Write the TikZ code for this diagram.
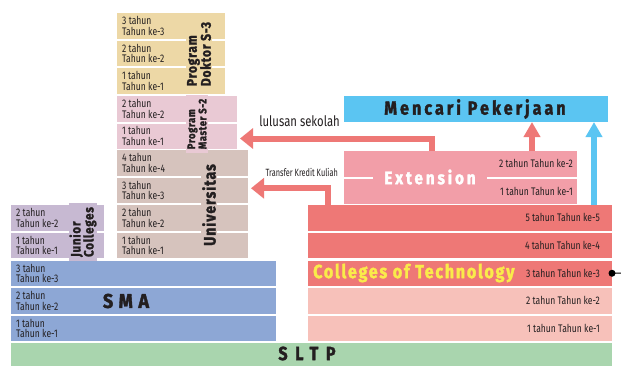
\documentclass[tikz,border=0pt]{standalone}
\usepackage{fontspec}
\setmainfont{Fira Sans}
\newfontfamily\cond[FakeStretch=0.78]{Fira Sans}
\newfontfamily\xcond[FakeStretch=0.7]{Fira Sans}
\newfontfamily\tcond[FakeStretch=0.85,LetterSpace=16,BoldFeatures={FakeBold=1.8}]{Fira Sans}
\newfontfamily\ccond[FakeStretch=0.85,LetterSpace=9,BoldFeatures={FakeBold=1.8}]{Fira Sans}
\newfontfamily\scond[FakeStretch=0.85,LetterSpace=40,BoldFeatures={FakeBold=1.8}]{Fira Sans}
\newfontfamily\mcond[FakeStretch=0.9,LetterSpace=28,BoldFeatures={FakeBold=1.8}]{Fira Sans}
\newfontfamily\ucond[FakeStretch=0.85,LetterSpace=6,BoldFeatures={FakeBold=1.8}]{Fira Sans}
\usetikzlibrary{arrows.meta}
\definecolor{docC}{HTML}{EDD8A6}
\definecolor{masC}{HTML}{E9C9D4}
\definecolor{uniC}{HTML}{D6C3BD}
\definecolor{junC}{HTML}{C7B9D2}
\definecolor{smaC}{HTML}{8DA7D5}
\definecolor{sltpC}{HTML}{A9D5AE}
\definecolor{cotA}{HTML}{EE7876}
\definecolor{cotB}{HTML}{F7C1BA}
\definecolor{extC}{HTML}{F29EA8}
\definecolor{jobC}{HTML}{5BC5F2}
\definecolor{yelC}{HTML}{FAEB4A}
\definecolor{txtC}{HTML}{231F20}
\newcommand\yr[7]{%
  \node[rowbox,fill=#6,minimum width=#4,minimum height=#5] (#1) at (#2,#3) {};
  \node[lbl] (#1-t) at (#1.west) {#7};}
\newcommand\yrr[8]{%
  \node[rowbox,fill=#6,minimum width=#4,minimum height=#5] (#1) at (#2,#3) {};
  \node[rlbl,xshift=#8] (#1-t) at (#1.east) {#7};}
\begin{document}
\begin{tikzpicture}[x=1pt,y=-1pt,
  rowbox/.style={draw=none,anchor=north west,inner sep=0pt,outer sep=0pt},
  lbl/.style={anchor=west,align=left,inner sep=0pt,xshift=5pt,text=txtC,
    font=\cond\fontsize{11}{10.5}\selectfont},
  rlbl/.style={anchor=east,inner sep=0pt,text=txtC,
    font=\cond\fontsize{11}{11}\selectfont},
  vtitle/.style={rotate=90,align=left,inner xsep=4pt,inner ysep=1pt,text=txtC},
  redarr/.style={draw=cotA,line width=6pt,-{Triangle[width=20pt,length=13pt]}},
  uparr/.style={line width=6pt,-{Triangle[width=16pt,length=15pt]}}
]
\path[use as bounding box,fill=white] (0,0) rectangle (621,365);

% SLTP
\node[rowbox,fill=sltpC,minimum width=601,minimum height=23] (sltp) at (11,343) {};
\node[font=\scond\bfseries\fontsize{19}{19}\selectfont,text=txtC] (sltp-t) at (307,353.5) {SLTP};

% SMA
\yr{sma3}{11}{260.5}{265}{25.5}{smaC}{3 tahun\\Tahun ke-3}
\yr{sma2}{11}{288}{265}{25.5}{smaC}{2 tahun\\Tahun ke-2}
\yr{sma1}{11}{315.5}{265}{25.5}{smaC}{1 tahun\\Tahun ke-1}
\node[font=\mcond\bfseries\fontsize{20}{20}\selectfont,text=txtC] (sma-t) at (126,301) {SMA};

% Junior Colleges
\yr{jc2}{11}{205}{93}{25.5}{junC}{2 tahun\\Tahun ke-2}
\yr{jc1}{11}{232.5}{93}{25.5}{junC}{1 tahun\\Tahun ke-1}
\node[vtitle,fill=junC,font=\ucond\bfseries\fontsize{13.5}{13}\selectfont] (jc-t) at (83,232) {Junior\\Colleges};

% Universitas
\yr{uni4}{117}{150}{131}{25.5}{uniC}{4 tahun\\Tahun ke-4}
\yr{uni3}{117}{177.5}{131}{25.5}{uniC}{3 tahun\\Tahun ke-3}
\yr{uni2}{117}{205}{131}{25.5}{uniC}{2 tahun\\Tahun ke-2}
\yr{uni1}{117}{232.5}{131}{25.5}{uniC}{1 tahun\\Tahun ke-1}
\node[vtitle,fill=uniC,font=\ucond\bfseries\fontsize{16.5}{16}\selectfont] (uni-t) at (209,205) {Universitas};

% Master
\yr{mas2}{117}{96}{120}{25.5}{masC}{2 tahun\\Tahun ke-2}
\yr{mas1}{117}{123.5}{120}{25}{masC}{1 tahun\\Tahun ke-1}
\node[vtitle,fill=masC,font=\ucond\bfseries\fontsize{11}{10}\selectfont] (mas-t) at (197,124) {Program\\Master S-2};

% Doktor
\yr{dok3}{117}{13}{108}{25.5}{docC}{3 tahun\\Tahun ke-3}
\yr{dok2}{117}{40.5}{108}{25.5}{docC}{2 tahun\\Tahun ke-2}
\yr{dok1}{117}{68}{108}{25.5}{docC}{1 tahun\\Tahun ke-1}
\node[vtitle,fill=docC,font=\ucond\bfseries\fontsize{14}{14}\selectfont] (dok-t) at (199,54) {Program\\Doktor S-3};

% Colleges of Technology
\yrr{cot5}{308}{205}{304}{25.5}{cotA}{5 tahun Tahun ke-5}{-12pt}
\yrr{cot4}{308}{232.5}{304}{25.5}{cotA}{4 tahun Tahun ke-4}{-12pt}
\yrr{cot3}{308}{260.5}{304}{25.5}{cotA}{3 tahun Tahun ke-3}{-12pt}
\yrr{cot2}{308}{288}{304}{25.5}{cotB}{2 tahun Tahun ke-2}{-12pt}
\yrr{cot1}{308}{315.5}{304}{25.5}{cotB}{1 tahun Tahun ke-1}{-12pt}
\node[anchor=west,inner sep=0pt,text=yelC,font=\ccond\bfseries\fontsize{19}{19}\selectfont] (cot-t) at (313,273) {Colleges of Technology};
\fill[black] (cot3.east) circle (3.5);
\coordinate (edge) at (621,273);
\draw[black,line width=1pt] (cot3.east) -- (edge);

% Extension
\yrr{ext2}{344}{151}{233}{25.5}{extC}{2 tahun Tahun ke-2}{-4pt}
\yrr{ext1}{344}{178.5}{233}{25.5}{extC}{1 tahun Tahun ke-1}{-4pt}
\node[fill=extC,inner xsep=11pt,inner ysep=2pt,text=white,font=\tcond\bfseries\fontsize{18}{18}\selectfont] (ext-t) at (430,177) {Extension};

% Mencari Pekerjaan
\node[rowbox,fill=jobC,minimum width=264,minimum height=26] (job) at (344,96) {};
\node[text=txtC,font=\tcond\bfseries\fontsize{19}{19}\selectfont] (job-t) at (475,109) {Mencari Pekerjaan};

% arrows
\coordinate (lx) at (432,0);
\coordinate (tx) at (328,0);
\coordinate (ux) at (532,0);
\coordinate (bx) at (594,0);
\draw[redarr,shorten >=3pt] (ext2.north -| lx) |- ([yshift=-2.5pt]mas1.east);
\draw[redarr,shorten >=3pt] (cot5.north -| tx) |- ([yshift=2pt]uni3.east);
\draw[uparr,draw=cotA] (ext2.north -| ux) -- (job.south -| ux);
\draw[uparr,draw=jobC] (cot5.north -| bx) -- (job.south -| bx);

\node[anchor=south east,inner sep=0pt,text=txtC,font=\cond\fontsize{14.5}{14}\selectfont] (lul-t) at (340,127) {lulusan sekolah};
\node[anchor=south east,inner sep=0pt,text=txtC,font=\xcond\fontsize{10.5}{10}\selectfont] (trf-t) at (338,177) {Transfer Kredit Kuliah};
\end{tikzpicture}
\end{document}
